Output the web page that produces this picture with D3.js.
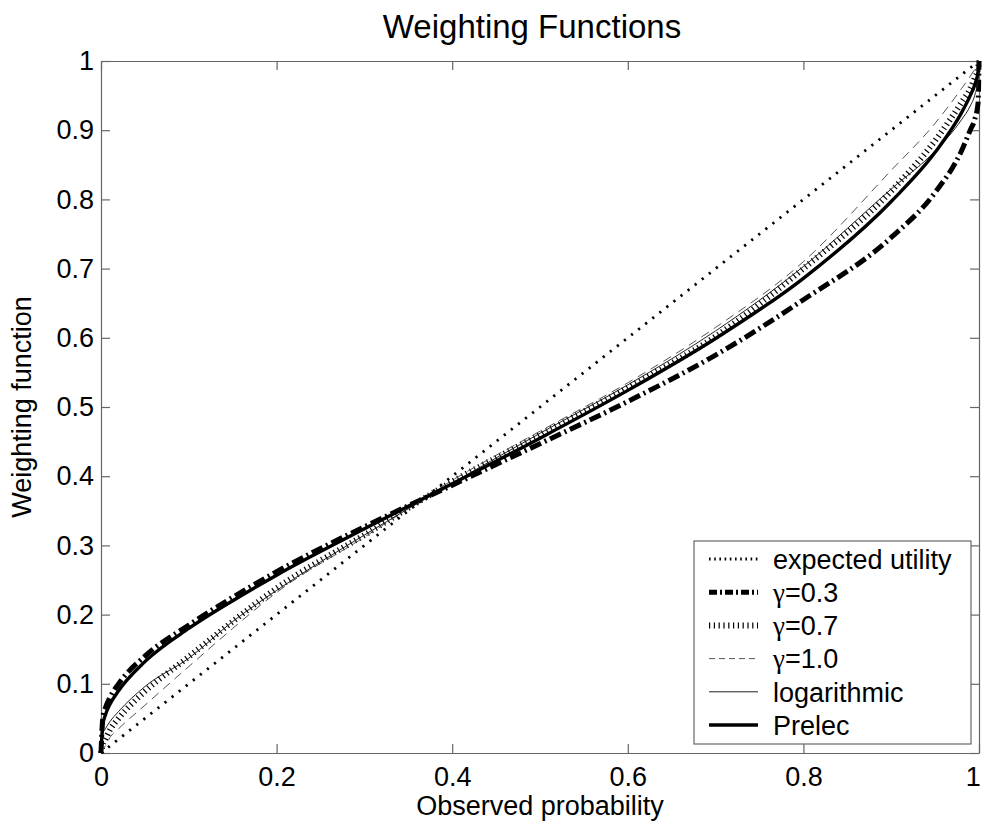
<!DOCTYPE html>
<html>
<head>
<meta charset="utf-8">
<script src="https://cdn.jsdelivr.net/npm/d3@7"></script>
<style>
  body { margin: 0; background: #fff; }
  svg { display: block; font-family: "Liberation Sans", Arial, sans-serif; }
</style>
</head>
<body>
<svg id="chart"></svg>
<script>
// observed probability grid
const probs = [0, 0.002, 0.005, 0.01, 0.02, 0.05, 0.1, 0.15, 0.2, 0.3, 0.4, 0.5, 0.6, 0.7, 0.8, 0.9, 0.95, 0.98, 0.99, 0.995, 0.999, 1];

// values
const expectedUtility = [0, 0.002, 0.005, 0.01, 0.02, 0.05, 0.1, 0.15, 0.2, 0.3, 0.4, 0.5, 0.6, 0.7, 0.8, 0.9, 0.95, 0.98, 0.99, 0.995, 0.999, 1];
const gamma03 = [0, 0.05, 0.065, 0.08, 0.1, 0.14, 0.185, 0.225, 0.262, 0.327, 0.387, 0.447, 0.508, 0.575, 0.655, 0.745, 0.81, 0.87, 0.9, 0.915, 0.94, 1];
const gamma07 = [0, 0.012, 0.02, 0.033, 0.05, 0.089, 0.139, 0.19, 0.238, 0.315, 0.392, 0.46, 0.528, 0.602, 0.70, 0.812, 0.885, 0.94, 0.96, 0.975, 0.99, 1];
const gamma10 = [0, 0.006, 0.01, 0.022, 0.035, 0.069, 0.125, 0.18, 0.232, 0.312, 0.394, 0.465, 0.535, 0.615, 0.71, 0.842, 0.91, 0.96, 0.978, 0.988, 0.997, 1];
const logarithmic = [0, 0.028, 0.035, 0.045, 0.06, 0.096, 0.137, 0.19, 0.235, 0.315, 0.39, 0.462, 0.532, 0.61, 0.703, 0.815, 0.87, 0.915, 0.935, 0.95, 0.975, 1];
const prelec = [0, 0.04, 0.055, 0.07, 0.09, 0.132, 0.18, 0.22, 0.257, 0.324, 0.389, 0.455, 0.524, 0.599, 0.686, 0.797, 0.868, 0.925, 0.95, 0.965, 0.985, 1];

const xTicks = [0, 0.2, 0.4, 0.6, 0.8, 1];
const yTicks = [0, 0.1, 0.2, 0.3, 0.4, 0.5, 0.6, 0.7, 0.8, 0.9, 1];

const seriesNames = ['expected utility', 'γ=0.3', 'γ=0.7', 'γ=1.0', 'logarithmic', 'Prelec'];
const seriesValues = [expectedUtility, gamma03, gamma07, gamma10, logarithmic, prelec];
const styles = [
  { color: '#000', width: 2.8, dash: '2.2,6.8', legendDash: '1.6,3.6' },
  { color: '#000', width: 5, dash: '12,4,2,4', legendDash: '8,3,2,3' },
  { color: '#000', width: 6, dash: '1.2,3.6', legendDash: '1.2,3.6' },
  { color: '#555', width: 1, dash: '9,6', legendDash: '6,4' },
  { color: '#222', width: 1, dash: null, legendDash: null },
  { color: '#000', width: 3.4, dash: null, legendDash: null }
];

const W = 984, H = 826;
const margin = { top: 61, right: 5, bottom: 73, left: 101 };
const w = W - margin.left - margin.right;
const h = H - margin.top - margin.bottom;

const svg = d3.select('#chart')
  .attr('width', W)
  .attr('height', H);

const g = svg.append('g')
  .attr('transform', `translate(${margin.left},${margin.top})`);

const x = d3.scaleLinear().domain([0, 1]).range([0, w]);
const y = d3.scaleLinear().domain([0, 1]).range([h, 0]);

const fmt = d => d === 0 ? '0' : d === 1 ? '1' : String(d);
const axisColor = '#666';
const fontSize = 27;

// box axes with inward ticks, like matlab
const xAxis = d3.axisBottom(x).tickValues(xTicks).tickFormat(fmt).tickSizeInner(-9).tickSizeOuter(0).tickPadding(14);
const yAxis = d3.axisLeft(y).tickValues(yTicks).tickFormat(fmt).tickSizeInner(-9).tickSizeOuter(0).tickPadding(7);
const xTop = d3.axisTop(x).tickValues(xTicks).tickFormat('').tickSizeInner(-9).tickSizeOuter(0);
const yRight = d3.axisRight(y).tickValues(yTicks).tickFormat('').tickSizeInner(-9).tickSizeOuter(0);

function styleAxis(sel) {
  sel.select('.domain').attr('stroke', axisColor).attr('stroke-width', 1.2);
  sel.selectAll('.tick line').attr('stroke', axisColor).attr('stroke-width', 1.2);
  sel.selectAll('.tick text').attr('fill', '#000').style('font-size', fontSize + 'px')
    .style('font-family', '"Liberation Sans", Arial, sans-serif');
}

const gx = g.append('g').attr('transform', `translate(0,${h})`).call(xAxis).call(styleAxis);
// keep the last x label inside the window
gx.selectAll('.tick text').filter(d => d === 1).attr('text-anchor', 'end').attr('dx', '0.05em');
g.append('g').call(yAxis).call(styleAxis);
g.append('g').call(xTop).call(styleAxis);
g.append('g').attr('transform', `translate(${w},0)`).call(yRight).call(styleAxis);

// curves
const line = d3.line()
  .x((d, i) => x(probs[i]))
  .y(d => y(d))
  .curve(d3.curveMonotoneX);

const plot = g.append('g');
seriesValues.forEach((vals, k) => {
  const s = styles[k];
  plot.append('path')
    .datum(vals)
    .attr('d', line)
    .attr('fill', 'none')
    .attr('stroke', s.color)
    .attr('stroke-width', s.width)
    .attr('stroke-dasharray', s.dash)
    .attr('stroke-linejoin', 'round');
});

// legend
const leg = svg.append('g').attr('transform', 'translate(694,541)');
leg.append('rect')
  .attr('width', 277).attr('height', 203)
  .attr('fill', '#fff')
  .attr('stroke', axisColor).attr('stroke-width', 1.2);

seriesNames.forEach((name, k) => {
  const s = styles[k];
  const cy = 18 + k * 33.2;
  leg.append('line')
    .attr('x1', 15).attr('x2', 64)
    .attr('y1', cy).attr('y2', cy)
    .attr('stroke', s.color)
    .attr('stroke-width', s.width)
    .attr('stroke-dasharray', s.legendDash);
  const t = leg.append('text')
    .attr('x', 79).attr('y', cy)
    .attr('dy', '0.36em')
    .style('font-size', fontSize + 'px');
  if (name.startsWith('γ')) {
    t.append('tspan').style('font-family', '"Liberation Serif", "Times New Roman", serif').text('γ');
    t.append('tspan').text(name.slice(1));
  } else {
    t.text(name);
  }
});

// titles
svg.append('text')
  .attr('x', 532).attr('y', 38)
  .attr('text-anchor', 'middle')
  .style('font-size', '33px')
  .text('Weighting Functions');

svg.append('text')
  .attr('x', margin.left + w / 2).attr('y', 815)
  .attr('text-anchor', 'middle')
  .style('font-size', fontSize + 'px')
  .text('Observed probability');

svg.append('text')
  .attr('transform', `translate(31,${margin.top + h / 2}) rotate(-90)`)
  .attr('text-anchor', 'middle')
  .style('font-size', fontSize + 'px')
  .text('Weighting function');
</script>
</body>
</html>
